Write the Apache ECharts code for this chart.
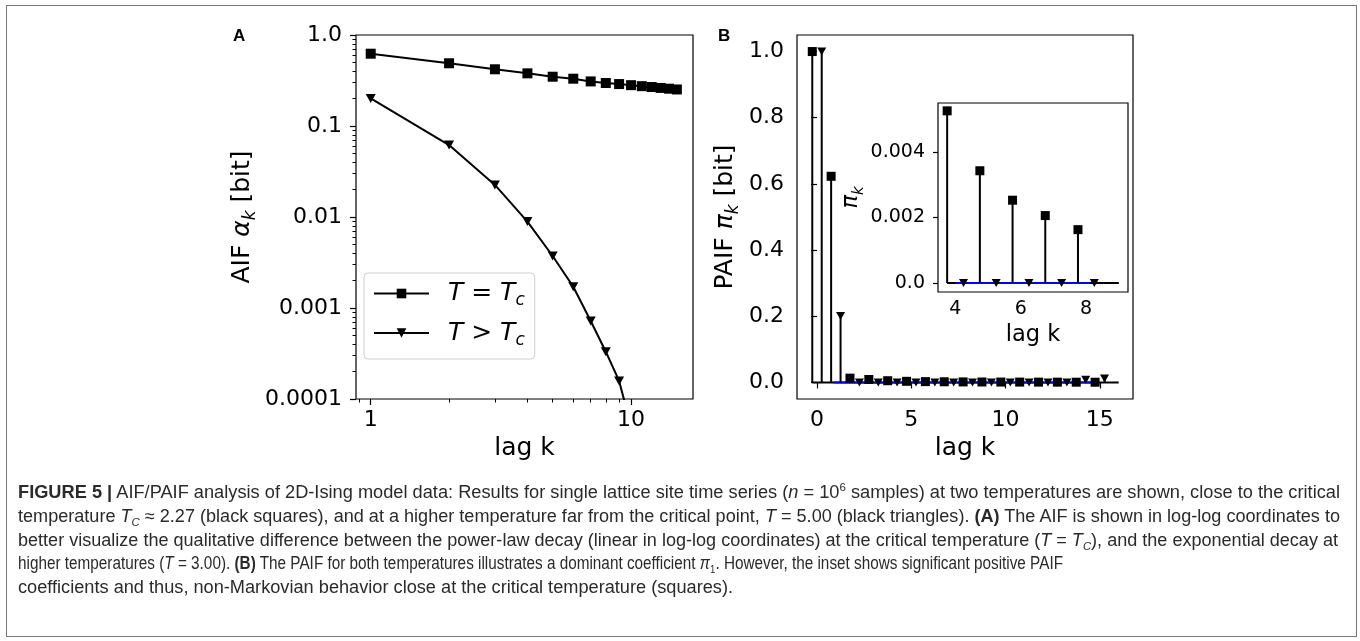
<!DOCTYPE html>
<html><head><meta charset="utf-8">
<script src="https://cdn.jsdelivr.net/npm/echarts@6/dist/echarts.min.js"></script>
<style>
html,body{margin:0;padding:0;background:#fff;}
#wrap{position:relative;width:1360px;height:641px;overflow:hidden;background:#fff;}
#chart{position:absolute;left:0;top:0;width:1360px;height:641px;}
#frame{position:absolute;left:6px;top:5px;width:1351px;height:632px;border:1.5px solid #777;box-sizing:border-box;pointer-events:none;}
.cap{position:absolute;left:18px;white-space:nowrap;font-family:"Liberation Sans Narrow","Liberation Sans",Arial,sans-serif;font-size:17.5px;line-height:20px;color:#2a2a2a;transform-origin:0 50%;}
.cap b{font-weight:bold;}
.cap .sp{font-size:11px;position:relative;top:-7px;}
.cap .sb{font-size:11px;position:relative;top:4px;}
</style></head>
<body><div id="wrap"><div id="chart"></div><div id="frame"></div><div id="caption"></div></div>
<script>
// ---------- data ----------
// Panel A: AIF (log-log)
const lagsA = [1,2,3,4,5,6,7,8,9,10,11,12,13,14,15];
const aifTc = [0.623,0.489,0.420,0.379,0.348,0.331,0.309,0.297,0.289,0.281,0.274,0.268,0.262,0.257,0.252];
const lagsAHigh = [1,2,3,4,5,6,7,8,9,10];
const aifHigh = [0.201,0.0618,0.0225,0.0089,0.00373,0.00171,0.00072,0.000331,0.000158,0.00005];
const seriesNamesA = ['T = Tc','T > Tc'];
const xTicksA = [1,10];
const xTickLabelsA = ['1','10'];
const xMinorA = [0.9,2,3,4,5,6,7,8,9];
const yTicksA = [0.0001,0.001,0.01,0.1,1];
const yTickLabelsA = ['0.0001','0.001','0.01','0.1','1.0'];
const yMinorA = [2e-4,3e-4,4e-4,5e-4,6e-4,7e-4,8e-4,9e-4,2e-3,3e-3,4e-3,5e-3,6e-3,7e-3,8e-3,9e-3,
                 0.02,0.03,0.04,0.05,0.06,0.07,0.08,0.09,0.2,0.3,0.4,0.5,0.6,0.7,0.8,0.9];
// Panel B: PAIF (stem plots)
const lagsB = [0,1,2,3,4,5,6,7,8,9,10,11,12,13,14,15];
const paifTc = [1.0,0.623,0.013,0.009,0.00526,0.00343,0.00253,0.00206,0.00163,0.0014,0.0012,0.0011,0.0010,0.0009,0.0008,0.0007];
const paifHigh = [1.0,0.201,0,0,0,0,0,0,0,0,0,0,0,0,0.008,0.012];
const baseBlackB = [-0.25,16.0];
const baseBlueB = [0.88,14.9];
const xTicksB = [0,5,10,15];
const yTicksB = [0,0.2,0.4,0.6,0.8,1.0];
const yTickLabelsB = ['0.0','0.2','0.4','0.6','0.8','1.0'];
// Inset
const insetLags = [4,5,6,7,8];
const baseBlackIn = [3.75,9.0];
const baseBlueIn = [4.0,8.1];
const xTicksIn = [4,6,8];
const yTicksIn = [0,0.002,0.004];
const yTickLabelsIn = ['0.0','0.002','0.004'];
// caption
const captionLines = [
 '<b>FIGURE 5 |</b> AIF/PAIF analysis of 2D-Ising model data: Results for single lattice site time series (<i>n</i> = 10<span class="sp">6</span> samples) at two temperatures are shown, close to the critical',
 'temperature <i>T</i><span class="sb"><i>C</i></span> ≈ 2.27 (black squares), and at a higher temperature far from the critical point, <i>T</i> = 5.00 (black triangles). <b>(A)</b> The AIF is shown in log-log coordinates to',
 'better visualize the qualitative difference between the power-law decay (linear in log-log coordinates) at the critical temperature (<i>T</i> = <i>T</i><span class="sb"><i>C</i></span>), and the exponential decay at',
 'higher temperatures (<i>T</i> = 3.00). <b>(B)</b> The PAIF for both temperatures illustrates a dominant coefficient <i>π</i><span class="sb">1</span>. However, the inset shows significant positive PAIF',
 'coefficients and thus, non-Markovian behavior close at the critical temperature (squares).'
];

// ---------- layout constants ----------
const SQ_OFF = -0.25, TR_OFF = 0.25;
const FONT = 'DejaVu Sans';
const TICK_FS = 22, NAME_FS = 25, IN_TICK_FS = 19, IN_NAME_FS = 22.5;

function fmtFrom(ticks, labels, log) {
  return function (v) {
    for (let i = 0; i < ticks.length; i++) {
      const d = log ? Math.abs(Math.log10(v) - Math.log10(ticks[i])) : Math.abs(v - ticks[i]);
      if (d < 1e-6) return labels[i];
    }
    return '';
  };
}
function richSet(fs) {
  return {
    t: {fontFamily: FONT, fontSize: fs, color: '#000', lineHeight: fs + 8},
    g: {fontFamily: FONT, fontSize: fs, color: '#000', fontStyle: 'italic', lineHeight: fs + 8},
    s: {fontFamily: FONT, fontSize: Math.round(fs * 0.68), color: '#000', fontStyle: 'italic', lineHeight: Math.round(fs * 0.68), verticalAlign: 'bottom'}
  };
}
const tickStyle = {color: '#000', width: 1.2};

function mainXAxis(o) {
  return Object.assign({
    position: 'bottom',
    axisLine: {show: false},
    splitLine: {show: false},
    axisTick: {show: true, length: 6, lineStyle: tickStyle},
    axisLabel: {fontFamily: FONT, fontSize: TICK_FS, color: '#000', margin: 10},
    nameLocation: 'middle',
    nameTextStyle: {fontFamily: FONT, fontSize: NAME_FS, color: '#000'}
  }, o);
}

function stemRender(params, api) {
  const x = api.value(0), y = api.value(1);
  const a = api.coord([x, 0]), b = api.coord([x, y]);
  return {type: 'line', shape: {x1: a[0], y1: a[1], x2: b[0], y2: b[1]}, style: {stroke: '#000', lineWidth: 2}};
}

const chart = echarts.init(document.getElementById('chart'), null, {renderer: 'canvas'});

const gridA = {left: 356, top: 35, width: 337, height: 364};
const gridB = {left: 797, top: 35, width: 336, height: 364};
const gridIn = {left: 938, top: 103, width: 190, height: 189};
const gridCommon = {show: true, borderColor: '#000', borderWidth: 1.2, backgroundColor: '#fff', containLabel: false, outerBoundsMode: 'none'};

const option = {
  animation: false,
  backgroundColor: '#fff',
  grid: [
    Object.assign({}, gridCommon, gridA),
    Object.assign({}, gridCommon, gridB),
    Object.assign({}, gridCommon, gridIn, {z: 5})
  ],
  xAxis: [
    mainXAxis({type: 'log', logBase: 10, gridIndex: 0, min: 0.878, max: 17.3,
      axisTick: {show: true, length: 6, lineStyle: tickStyle, customValues: xTicksA},
      axisLabel: {fontFamily: FONT, fontSize: TICK_FS, color: '#000', margin: 10, customValues: xTicksA, formatter: fmtFrom(xTicksA, xTickLabelsA, true)},
      name: 'lag k', nameGap: 35}),
    {type: 'log', logBase: 10, gridIndex: 0, position: 'bottom', offset: 0, min: 0.878, max: 17.3, axisLine: {show: false}, splitLine: {show: false},
      axisLabel: {show: false}, axisTick: {show: true, length: 3.5, lineStyle: {color: '#000', width: 1}, customValues: xMinorA}},
    mainXAxis({type: 'value', gridIndex: 1, min: -1.06, max: 16.76,
      axisTick: {show: true, length: 6, lineStyle: tickStyle, customValues: xTicksB},
      axisLabel: {fontFamily: FONT, fontSize: TICK_FS, color: '#000', margin: 10, customValues: xTicksB},
      name: 'lag k', nameGap: 35}),
    mainXAxis({type: 'value', gridIndex: 2, min: 3.47, max: 9.28,
      axisTick: {show: true, length: 5, lineStyle: tickStyle, customValues: xTicksIn},
      axisLabel: {fontFamily: FONT, fontSize: IN_TICK_FS, color: '#000', margin: 8, customValues: xTicksIn},
      name: 'lag k', nameGap: 32, nameTextStyle: {fontFamily: FONT, fontSize: IN_NAME_FS, color: '#000'}})
  ],
  yAxis: [
    {type: 'log', logBase: 10, gridIndex: 0, position: 'left', min: 0.0001, max: 1, axisLine: {show: false}, splitLine: {show: false},
      axisTick: {show: true, length: 6, lineStyle: tickStyle, customValues: yTicksA},
      axisLabel: {fontFamily: FONT, fontSize: TICK_FS, color: '#000', margin: 14, customValues: yTicksA, formatter: fmtFrom(yTicksA, yTickLabelsA, true)},
      name: '{t|AIF }{g|α}{s|k}{t| [bit]}', nameLocation: 'middle', nameGap: 97,
      nameTextStyle: {rich: richSet(NAME_FS)}},
    {type: 'log', logBase: 10, gridIndex: 0, position: 'left', offset: 0, min: 0.0001, max: 1, axisLine: {show: false}, splitLine: {show: false},
      axisLabel: {show: false}, axisTick: {show: true, length: 3.5, lineStyle: {color: '#000', width: 1}, customValues: yMinorA}},
    {type: 'value', gridIndex: 1, position: 'left', min: -0.05, max: 1.05, axisLine: {show: false}, splitLine: {show: false},
      axisTick: {show: true, length: 6, lineStyle: tickStyle, customValues: yTicksB},
      axisLabel: {fontFamily: FONT, fontSize: TICK_FS, color: '#000', margin: 13, customValues: yTicksB, formatter: fmtFrom(yTicksB, yTickLabelsB, false)},
      name: '{t|PAIF }{g|π}{s|k}{t| [bit]}', nameLocation: 'middle', nameGap: 55,
      nameTextStyle: {rich: richSet(NAME_FS)}},
    {type: 'value', gridIndex: 2, position: 'left', min: -0.000275, max: 0.0055, axisLine: {show: false}, splitLine: {show: false},
      axisTick: {show: true, length: 5, lineStyle: tickStyle, customValues: yTicksIn},
      axisLabel: {fontFamily: FONT, fontSize: IN_TICK_FS, color: '#000', margin: 13, customValues: yTicksIn, formatter: fmtFrom(yTicksIn, yTickLabelsIn, false)},
      name: '{g|π}{s|k}', nameLocation: 'middle', nameGap: 62,
      nameTextStyle: {rich: richSet(IN_NAME_FS)}}
  ],
  legend: {
    show: true, orient: 'vertical', left: 364, top: 273,
    data: seriesNamesA,
    itemWidth: 55, itemHeight: 12, itemGap: 11,
    padding: [8, 10, 10, 9],
    backgroundColor: 'rgba(255,255,255,0.85)', borderColor: '#cfcfcf', borderWidth: 1, borderRadius: 4,
    textStyle: {fontFamily: FONT, fontSize: 25, color: '#000', padding: [0, 0, 0, 14],
      rich: {
        i: {fontFamily: FONT, fontSize: 25, fontStyle: 'italic', color: '#000', lineHeight: 32},
        n: {fontFamily: FONT, fontSize: 25, color: '#000', lineHeight: 32},
        s: {fontFamily: FONT, fontSize: 17, fontStyle: 'italic', color: '#000', lineHeight: 17, verticalAlign: 'bottom'}
      }},
    formatter: function (name) {
      return name === seriesNamesA[0] ? '{i|T}{n| = }{i|T}{s|c}' : '{i|T}{n| > }{i|T}{s|c}';
    }
  },
  graphic: [
    {type: 'text', left: 233, top: 28, style: {text: 'A', font: 'bold 17px "Liberation Sans", Arial', fill: '#000'}},
    {type: 'text', left: 718, top: 28, style: {text: 'B', font: 'bold 17px "Liberation Sans", Arial', fill: '#000'}}
  ],
  series: [
    {type: 'line', name: seriesNamesA[0], xAxisIndex: 0, yAxisIndex: 0,
      data: lagsA.map((k, i) => [k, aifTc[i]]),
      symbol: 'rect', symbolSize: 10, showAllSymbol: true, clip: true,
      lineStyle: {color: '#000', width: 2}, itemStyle: {color: '#000', opacity: 1}, emphasis: {disabled: true}},
    {type: 'line', name: seriesNamesA[1], xAxisIndex: 0, yAxisIndex: 0,
      data: lagsAHigh.map((k, i) => [k, aifHigh[i]]),
      symbol: 'triangle', symbolRotate: 180, symbolSize: [10, 9], showAllSymbol: true, clip: true,
      lineStyle: {color: '#000', width: 2}, itemStyle: {color: '#000', opacity: 1}, emphasis: {disabled: true}},
    // Panel B
    {type: 'line', xAxisIndex: 2, yAxisIndex: 2, data: baseBlackB.map(x => [x, 0]), symbol: 'none',
      lineStyle: {color: '#000', width: 2}, z: 2, silent: true},
    {type: 'line', xAxisIndex: 2, yAxisIndex: 2, data: baseBlueB.map(x => [x, 0]), symbol: 'none',
      lineStyle: {color: '#0000ff', width: 2}, z: 3, silent: true},
    {type: 'custom', xAxisIndex: 2, yAxisIndex: 2, renderItem: stemRender, encode: {x: 0, y: 1}, clip: true,
      data: lagsB.map((k, i) => [k + SQ_OFF, paifTc[i]]), z: 4, silent: true},
    {type: 'custom', xAxisIndex: 2, yAxisIndex: 2, renderItem: stemRender, encode: {x: 0, y: 1}, clip: true,
      data: lagsB.map((k, i) => [k + TR_OFF, paifHigh[i]]), z: 4, silent: true},
    {type: 'scatter', xAxisIndex: 2, yAxisIndex: 2, data: lagsB.map((k, i) => [k + SQ_OFF, paifTc[i]]),
      symbol: 'rect', symbolSize: 9, itemStyle: {color: '#000', opacity: 1}, z: 5, silent: true},
    {type: 'scatter', xAxisIndex: 2, yAxisIndex: 2, data: lagsB.map((k, i) => [k + TR_OFF, paifHigh[i]]),
      symbol: 'triangle', symbolRotate: 180, symbolSize: [9, 8], itemStyle: {color: '#000', opacity: 1}, z: 6, silent: true},
    // Inset
    {type: 'line', xAxisIndex: 3, yAxisIndex: 3, data: baseBlackIn.map(x => [x, 0]), symbol: 'none',
      lineStyle: {color: '#000', width: 2}, z: 7, silent: true},
    {type: 'line', xAxisIndex: 3, yAxisIndex: 3, data: baseBlueIn.map(x => [x, 0]), symbol: 'none',
      lineStyle: {color: '#0000ff', width: 2}, z: 8, silent: true},
    {type: 'custom', xAxisIndex: 3, yAxisIndex: 3, renderItem: stemRender, encode: {x: 0, y: 1}, clip: true,
      data: insetLags.map(k => [k + SQ_OFF, paifTc[lagsB.indexOf(k)]]), z: 9, silent: true},
    {type: 'custom', xAxisIndex: 3, yAxisIndex: 3, renderItem: stemRender, encode: {x: 0, y: 1}, clip: true,
      data: insetLags.map(k => [k + TR_OFF, paifHigh[lagsB.indexOf(k)]]), z: 9, silent: true},
    {type: 'scatter', xAxisIndex: 3, yAxisIndex: 3, data: insetLags.map(k => [k + SQ_OFF, paifTc[lagsB.indexOf(k)]]),
      symbol: 'rect', symbolSize: 9, itemStyle: {color: '#000', opacity: 1}, z: 10, silent: true},
    {type: 'scatter', xAxisIndex: 3, yAxisIndex: 3, data: insetLags.map(k => [k + TR_OFF, paifHigh[lagsB.indexOf(k)]]),
      symbol: 'triangle', symbolRotate: 180, symbolSize: [9, 8], itemStyle: {color: '#000', opacity: 1}, z: 11, silent: true}
  ]
};
chart.setOption(option);

// ---------- caption ----------
const capCenters = [492, 516, 540, 563, 587];
const capTargets = [1322, 1322, 1320, 1045, 715];
const capEl = document.getElementById('caption');
const divs = captionLines.map((html, i) => {
  const d = document.createElement('div');
  d.className = 'cap';
  d.style.top = (capCenters[i] - 10) + 'px';
  d.innerHTML = html;
  capEl.appendChild(d);
  return d;
});
function fitCaption() {
  divs.forEach((d, i) => {
    d.style.transform = 'none';
    const w = d.getBoundingClientRect().width;
    d.style.transform = 'scaleX(' + (capTargets[i] / w) + ')';
  });
}
fitCaption();
if (document.fonts && document.fonts.ready) document.fonts.ready.then(fitCaption);
</script>
</body></html>
